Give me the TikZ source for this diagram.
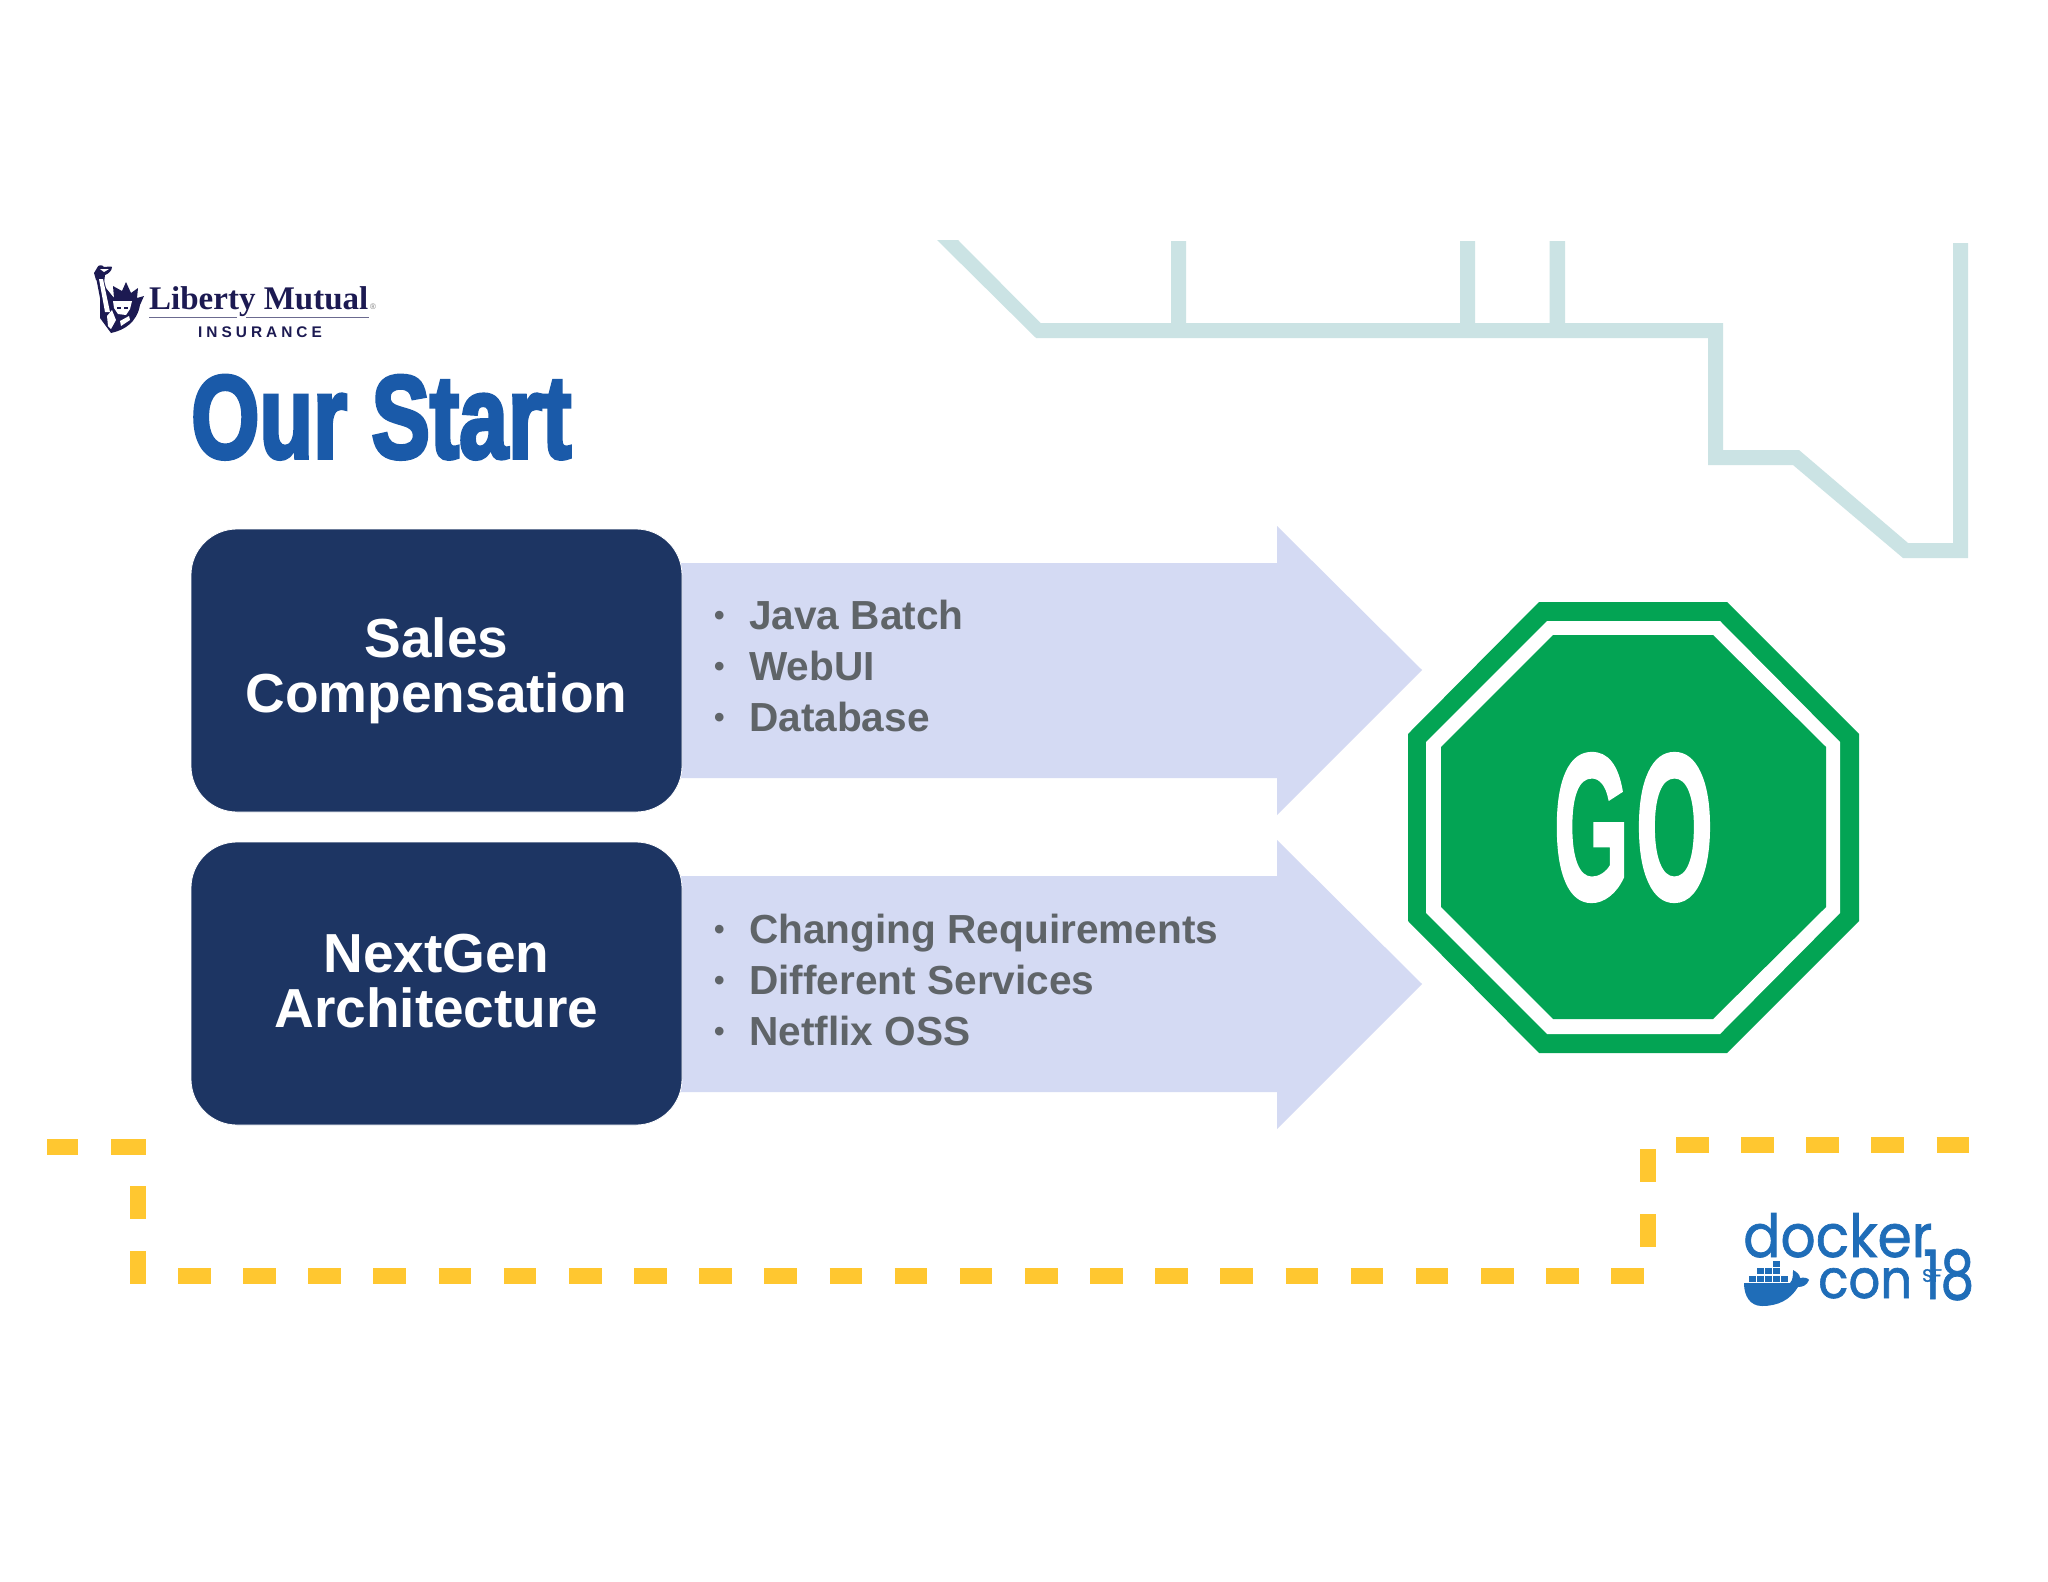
\documentclass[tikz,border=0pt]{standalone}
\usepackage{fontspec}
\usepackage{graphicx}
\setmainfont{Liberation Sans}
\newfontfamily\serifface{Liberation Serif}
\newfontfamily\heavyface[UprightFont=*-Bold,FakeBold=3.6]{Liberation Sans}
\newfontfamily\goface[UprightFont=*-Bold,FakeBold=1.4]{Liberation Sans}
\newfontfamily\dockerface[FakeBold=1.2]{Poppins}
\definecolor{navybox}{HTML}{1D3563}
\definecolor{arrowfill}{HTML}{D4DAF3}
\definecolor{graytext}{HTML}{5F6468}
\definecolor{teal1}{HTML}{CBE3E4}
\definecolor{dashy}{HTML}{FFC730}
\definecolor{gogreen}{HTML}{03A454}
\definecolor{titleblue}{HTML}{1A5AA9}
\definecolor{libnavy}{HTML}{1C1A52}
\definecolor{dockblue}{HTML}{1F6DB8}
\tikzset{
  navybox/.style={fill=navybox,draw=white,line width=0.8pt,rounded corners=46pt,minimum width=491pt,minimum height=283pt,
    text=white,align=center,inner sep=0pt,font=\fontsize{55}{55}\selectfont\bfseries},
  arrowshape/.style={fill=arrowfill},
  bulletline/.style={anchor=base west,inner sep=0pt,text=graytext,font=\fontsize{40.6}{40.6}\selectfont\bfseries},
  yellowdash/.style={draw=dashy,line width=16pt,dash pattern=on 32.6pt off 32.55pt},
  container/.style={fill=dockblue},
  dockertext/.style={text=dockblue,inner sep=0pt,anchor=base west},
}
\newcommand{\bul}{\makebox[37pt][l]{\hspace{2pt}\raisebox{3.6pt}{\fontsize{30}{30}\selectfont •}}}
\begin{document}
\begin{tikzpicture}[x=1pt,y=-1pt]
\useasboundingbox[fill=white] (0,0) rectangle (2048,1582);
% teal line
\fill[teal1] (937,240) -- (958,240) -- (1040.5,323) -- (1171,323) -- (1171,241) -- (1186,241) -- (1186,323)
  -- (1460,323) -- (1460,241) -- (1475,241) -- (1475,323) -- (1549.5,323) -- (1549.5,241) -- (1565,241) -- (1565,323)
  -- (1723,323) -- (1723,450) -- (1799,450) -- (1908,543) -- (1953,543) -- (1953,243) -- (1968,243) -- (1968,558)
  -- (1903,558) -- (1793,465) -- (1708,465) -- (1708,338) -- (1036,338) -- cycle;
% yellow dashed route
\draw[draw=dashy,line width=16pt] (47,1147) -- (78,1147);
\draw[draw=dashy,line width=16pt] (111,1147) -- (146,1147);
\draw[yellowdash] (138,1186) -- (138,1284);
\draw[yellowdash] (178,1276) -- (1644,1276);
\draw[yellowdash] (1647.5,1149) -- (1647.5,1247);
\draw[yellowdash] (1676,1145) -- (1969,1145);
% arrows
\fill[arrowshape] (670,563) -- (1277,563) -- (1277,526) -- (1422,670) -- (1277,815) -- (1277,778) -- (670,778) -- cycle;
\fill[arrowshape] (670,876) -- (1277,876) -- (1277,840) -- (1422,984) -- (1277,1129) -- (1277,1092) -- (670,1092) -- cycle;
% boxes
\node[navybox] (sales) at (436.5,670.5) {Sales\\Compensation};
\node[navybox] (nextgen) at (436.5,983.5) {\raisebox{4.5pt}{NextGen}\\\raisebox{4.5pt}{Architecture}};
% bullets
\node[bulletline] (b1) at (712,629) {\bul Java Batch};
\node[bulletline] (b2) at (712,680) {\bul WebUI};
\node[bulletline] (b3) at (712,731) {\bul Database};
\node[bulletline] (b4) at (712,943) {\bul Changing Requirements};
\node[bulletline] (b5) at (712,994) {\bul Different Services};
\node[bulletline] (b6) at (712,1045) {\bul Netflix OSS};
% octagon
\fill[gogreen] (1539,602) -- (1727,602) -- (1859,734) -- (1859,921) -- (1727,1053) -- (1539,1053) -- (1408,921) -- (1408,734) -- cycle;
\fill[white] (1547,621) -- (1720,621) -- (1840,742) -- (1840,913) -- (1720,1034) -- (1547,1034) -- (1426,913) -- (1426,742) -- cycle;
\fill[gogreen] (1553,635) -- (1713,635) -- (1826,747) -- (1826,907) -- (1713,1019) -- (1553,1019) -- (1441,907) -- (1441,747) -- cycle;
\node[text=white,inner sep=0pt] (go) at (1633.5,827.5) {\goface\resizebox{76pt}{146pt}{G}\hspace{6pt}\resizebox{78pt}{146pt}{O}};
% title
\node[text=titleblue,inner sep=0pt,anchor=north west] (title) at (191,375.5) {\resizebox{380pt}{82pt}{\heavyface Our Start}};
% Liberty Mutual logo
\node[inner sep=0pt,anchor=base west,text=libnavy,font=\serifface\bfseries\fontsize{33}{33}\selectfont] (lm) at (149,309) {Liberty Mutual};
\node[inner sep=0pt,anchor=base west,text=gray,font=\fontsize{8}{8}\selectfont] (reg) at (370,309) {®};
\node[inner sep=0pt,anchor=base west,text=libnavy,font=\bfseries\fontsize{15.4}{15.4}\selectfont] (ins) at (198,337.5) {\addfontfeature{LetterSpace=26}INSURANCE};
\draw[draw=libnavy!65,line width=1pt] (149,317) -- (237,317);
\draw[draw=libnavy!65,line width=1pt] (246,317) -- (369,317);
% statue
\fill[libnavy] (95,272) -- (100,298) -- (100,318) -- (111,333) .. controls (125,330) and (137,322) .. (140,305)
  -- (144,296) -- (137,298) -- (138,288) -- (131,293) -- (126,282) -- (122,291) -- (113,286) -- (114,298) -- (106,288) -- (102,273) -- cycle;
\fill[libnavy] (97,268) .. controls (98,264) and (103,265) .. (104,267) .. controls (107,267) and (111,266) .. (112,267)
  .. controls (112,271) and (108,274) .. (105,275) -- (104,283) -- (96,280) -- (94,273) -- cycle;
\fill[white] (100,269) -- (109,269) -- (104,272) -- cycle;
\fill[white] (99,279) -- (103,279) -- (110,312) -- (105,312) -- cycle;
\fill[white] (113,301) -- (132,301) -- (130,309) -- (126,315) -- (118,314) -- (114,308) -- cycle;
\fill[white] (107,316) -- (112,310) -- (116,320) -- (111,329) -- (108,326) -- cycle;
\fill[white] (120,321) -- (129,316) -- (130,320) -- (121,326) -- cycle;
\fill[libnavy] (112,300) -- (122,294) -- (133,300) -- cycle;
\fill[libnavy] (117,307) -- (121,307) -- (121,309) -- (117,309) -- cycle;
\fill[libnavy] (124,307) -- (128,307) -- (128,309) -- (124,309) -- cycle;
% docker logo
\node[dockertext,font=\dockerface] (dock) at (1743,1257) {\resizebox{189pt}{44pt}{docker}};
\node[dockertext,font=\dockerface] (con) at (1818,1298) {\resizebox{94pt}{30pt}{con}};
\node[dockertext,font=\dockerface] (num) at (1923,1299) {\resizebox{51pt}{50pt}{18}};
\node[inner sep=0pt,text=dockblue,font=\dockerface\fontsize{18}{18}\selectfont] (sf) at (1932,1275.5) {SF};
\foreach \cx/\cy in {1749/1276,1757/1276,1765/1276,1773/1276,1781/1276,1757/1268,1765/1268,1773/1268,1773/1261}
  \fill[container] (\cx,\cy) rectangle ++(6.6,6);
\fill[dockblue] (1744,1283) -- (1790,1283) .. controls (1793,1280) and (1793,1275) .. (1793,1270)
  .. controls (1797,1272) and (1800,1275) .. (1800,1278) .. controls (1804,1277) and (1808,1278) .. (1809,1280)
  .. controls (1807,1285) and (1803,1287) .. (1798,1287) .. controls (1790,1300) and (1778,1306) .. (1762,1306)
  .. controls (1750,1306) and (1744,1296) .. (1744,1283) -- cycle;
\end{tikzpicture}
\end{document}
